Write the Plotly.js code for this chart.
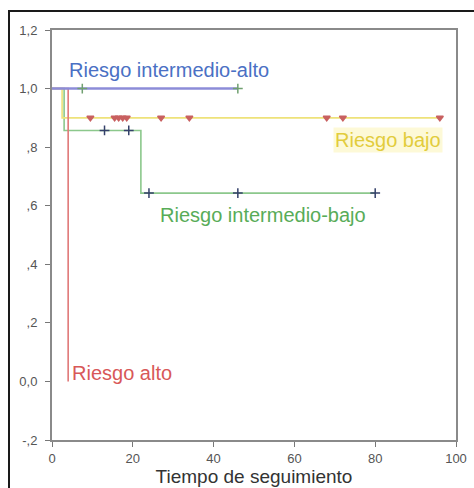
<!DOCTYPE html>
<html>
<head>
<meta charset="utf-8">
<script src="https://cdn.plot.ly/plotly-3.0.1.min.js"></script>
<style>
  html, body { margin: 0; padding: 0; background: #ffffff; }
  #chart { width: 474px; height: 488px; position: absolute; left: 0; top: 0; }
  #frame { position: absolute; left: 8px; top: 10px; width: 470px; height: 480px;
           border-left: 2px solid #1a1a1a; border-top: 2px solid #1a1a1a; pointer-events: none; }
</style>
</head>
<body>
<div id="chart"></div>
<div id="frame"></div>
<script>
// Kaplan-Meier step curves (time, survival) per risk group
var altoT = [0, 4];
var altoS = [1.0, 0.0];
var bajoT = [0, 2.5, 96];
var bajoS = [1.0, 0.9, 0.9];
var intBajoT = [0, 3, 22, 80];
var intBajoS = [1.0, 0.857, 0.643, 0.643];
var intAltoT = [0, 46];
var intAltoS = [1.0, 1.0];

// censored observation times
var bajoCens = [9.5, 15.5, 16.5, 17.5, 18.5, 27, 34, 68, 72, 96];
var intBajoCens = [13, 19, 24, 46, 80];
var intAltoCens = [7.5, 46];

var yTickVals = [-0.2, 0, 0.2, 0.4, 0.6, 0.8, 1.0, 1.2];
var yTickText = ["-,2", "0,0", ",2", ",4", ",6", ",8", "1,0", "1,2"];
var xTickVals = [0, 20, 40, 60, 80, 100];

function stepAt(ts, ss, t) {
  var v = ss[0];
  for (var i = 0; i < ts.length; i++) { if (ts[i] <= t) v = ss[i]; }
  return v;
}

function curve(ts, ss, color, w) {
  return { x: ts, y: ss, mode: 'lines', line: { shape: 'hv', color: color, width: w },
           hoverinfo: 'skip', showlegend: false, type: 'scatter' };
}
function cens(ts, ss, times, color, symbol, size) {
  return { x: times, y: times.map(function (t) { return stepAt(ts, ss, t); }),
           mode: 'markers', type: 'scatter', showlegend: false, hoverinfo: 'skip',
           marker: { symbol: symbol, size: size, color: color, line: { color: color, width: 1.5 } } };
}

var data = [
  curve(intBajoT, intBajoS, '#8cc88c', 1.6),
  curve(bajoT, bajoS, '#eee27a', 1.6),
  curve(altoT, altoS, '#e07878', 1.6),
  curve(intAltoT, intAltoS, '#8c8cd8', 2.5),
  cens(bajoT, bajoS, bajoCens, '#c86060', 'triangle-down', 6),
  cens(intBajoT, intBajoS, intBajoCens, '#34406a', 'cross-thin-open', 7),
  cens(intAltoT, intAltoS, intAltoCens, '#70a070', 'cross-thin-open', 7)
];

var txtFont = 'Liberation Sans, Arial, sans-serif';
var layout = {
  width: 474, height: 488,
  margin: { l: 52, r: 18, t: 30, b: 48 },
  paper_bgcolor: '#ffffff', plot_bgcolor: '#ffffff',
  xaxis: {
    range: [0, 100], tickvals: xTickVals, ticks: 'outside', ticklen: 5, tickcolor: '#777',
    showgrid: false, zeroline: false, showline: true, linecolor: '#8a8a8a', linewidth: 2, mirror: true,
    tickfont: { family: txtFont, size: 13, color: '#555' },
    title: { text: 'Tiempo de seguimiento', font: { family: txtFont, size: 19, color: '#333' }, standoff: 5 }
  },
  yaxis: {
    range: [-0.2, 1.2], tickvals: yTickVals, ticktext: yTickText, ticks: 'outside', ticklen: 5, tickcolor: '#777',
    showgrid: false, zeroline: false, showline: true, linecolor: '#8a8a8a', linewidth: 2, mirror: true,
    ticklabelstandoff: 5,
    tickfont: { family: txtFont, size: 13, color: '#555' }
  },
  annotations: [
    { x: 3.7, y: 1.064, xanchor: 'left', yanchor: 'middle', showarrow: false, text: 'Riesgo intermedio-alto',
      font: { family: txtFont, size: 20, color: '#4a70c4' } },
    { x: 96.8, y: 0.824, xanchor: 'right', yanchor: 'middle', showarrow: false, text: 'Riesgo bajo',
      bgcolor: 'rgba(252,248,205,0.8)', font: { family: txtFont, size: 20, color: '#e2cc3c' } },
    { x: 26.2, y: 0.568, xanchor: 'left', yanchor: 'middle', showarrow: false, text: 'Riesgo intermedio-bajo',
      font: { family: txtFont, size: 20, color: '#58ac58' } },
    { x: 4.5, y: 0.03, xanchor: 'left', yanchor: 'middle', showarrow: false, text: 'Riesgo alto',
      font: { family: txtFont, size: 20, color: '#d85858' } }
  ]
};

Plotly.newPlot('chart', data, layout, { staticPlot: true, displayModeBar: false });
</script>
</body>
</html>
